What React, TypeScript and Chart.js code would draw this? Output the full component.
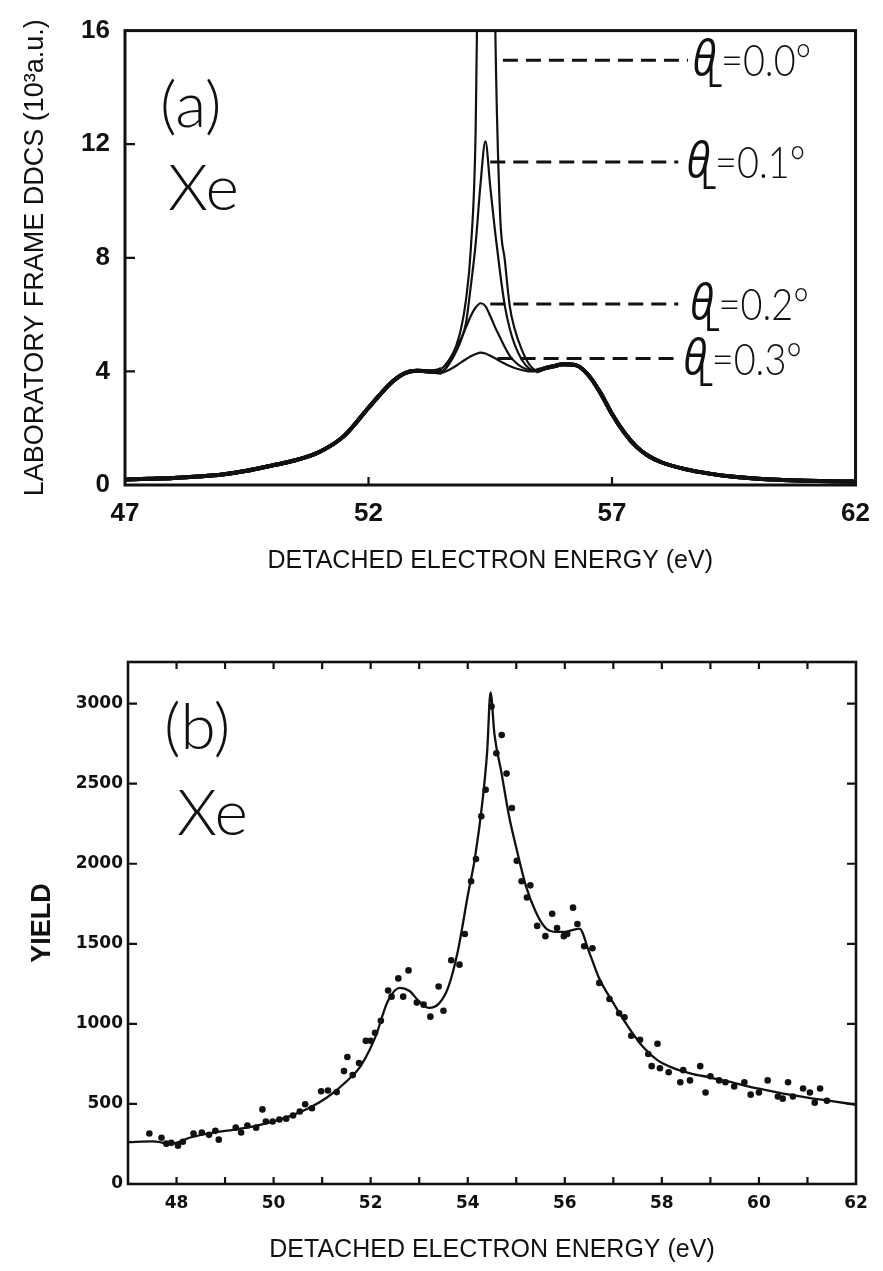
import React, { useEffect, useRef } from "react";
import { Chart, registerables } from "chart.js";
Chart.register(...registerables);

// ---------- Panel (a): laboratory frame DDCS ----------
const X_A = [47, 47.5, 48, 48.5, 49, 49.5, 50, 50.5, 51, 51.5, 52, 52.25, 52.5, 52.75, 53, 53.25, 53.5,
  53.65, 53.8, 53.9, 54.0, 54.1, 54.2, 54.3, 54.4, 54.5, 54.6, 54.7, 54.8, 54.9, 55.0, 55.15, 55.3, 55.45,
  55.6, 55.8, 56.0, 56.25, 56.5, 56.75, 57, 57.25, 57.5, 57.75, 58, 58.5, 59, 59.5, 60, 60.5, 61, 61.5, 62];

const Y_A_LEFT = [0.19, 0.22, 0.25, 0.3, 0.37, 0.5, 0.68, 0.87, 1.17, 1.73, 2.72, 3.21, 3.65, 3.94, 4.02, 4.0];
const Y_A_RIGHT = [4.1, 4.18, 4.25, 4.22, 3.9, 3.28, 2.5, 1.85, 1.35, 1.02, 0.81, 0.56, 0.4, 0.29, 0.22, 0.18, 0.15, 0.13, 0.12];

// centre part, x = 53.5 ... 55.45
const Y_A_00 = [4.0, 4.3, 4.9, 5.5, 6.5, 8.3, 12.5, 26, 42, 34, 16.5, 9.6, 7.9, 6.3, 5.5, 4.75, 4.25, 4.05];
const Y_A_01 = [3.98, 4.25, 4.7, 5.1, 5.7, 7.0, 8.5, 10.6, 12.1, 10.5, 8.9, 7.5, 6.3, 5.5, 4.95, 4.4, 4.1, 4.02];
const Y_A_02 = [4.1, 4.4, 4.85, 5.15, 5.55, 5.95, 6.25, 6.4, 6.3, 5.95, 5.55, 5.2, 4.85, 4.55, 4.35, 4.15, 4.05, 4.02];
const Y_A_03 = [3.95, 4.05, 4.2, 4.32, 4.43, 4.53, 4.61, 4.66, 4.63, 4.55, 4.46, 4.36, 4.27, 4.19, 4.12, 4.05, 4.0, 4.0];

const ANGLES = ["0.0", "0.1", "0.2", "0.3"];
const DASH_LEVEL = [14.96, 11.37, 6.37, 4.45];
const DASH_START = [54.76, 54.5, 54.5, 54.65];
const DASH_END = [58.56, 58.36, 58.36, 58.43];
const LABEL_X = [58.65, 58.53, 58.6, 58.46];

const X_TICKS_A = [47, 52, 57, 62];
const Y_TICKS_A = [0, 4, 8, 12, 16];
const X_MARKS_A = [52, 57];
const Y_MARKS_A = [4, 8, 12];

// ---------- Panel (b): measured yield ----------
const FIT_B_X = [47, 47.5, 47.9, 48.3, 48.7, 49.2, 49.7, 50.2, 50.7, 51.1, 51.5, 51.8, 52.1, 52.35, 52.6, 52.8, 53.0,
  53.2, 53.4, 53.6, 53.8, 54.0, 54.15, 54.3, 54.4, 54.47, 54.55, 54.7, 54.85, 55.0, 55.2, 55.4, 55.6, 55.8, 56.0,
  56.3, 56.5, 56.7, 57.0, 57.3, 57.6, 57.9, 58.2, 58.6, 59.0, 59.5, 60.0, 60.5, 61.0, 61.5, 62.0];
const FIT_B_Y = [262, 266, 252, 292, 318, 340, 368, 410, 470, 540, 640, 740, 920, 1140, 1225, 1205, 1140,
  1100, 1125, 1230, 1460, 1800, 2040, 2380, 2700, 3070, 2810, 2560, 2300, 2100, 1860, 1700, 1600, 1575, 1575,
  1595, 1450, 1290, 1130, 985, 860, 775, 728, 690, 665, 630, 595, 565, 540, 518, 495];

const PTS_B_X = [47.44, 47.69, 47.79, 47.89, 48.03, 48.13, 48.35, 48.52, 48.67, 48.80,
  48.87, 49.22, 49.33, 49.46, 49.64, 49.77, 49.84, 49.98, 50.12, 50.26,
  50.40, 50.54, 50.65, 50.79, 50.98, 51.12, 51.30, 51.45, 51.52, 51.63,
  51.76, 51.90, 52.00, 52.09, 52.21, 52.36, 52.43, 52.57, 52.67, 52.78,
  52.95, 53.09, 53.23, 53.40, 53.50, 53.66, 53.83, 53.94, 54.07, 54.17,
  54.28, 54.37, 54.49, 54.59, 54.70, 54.80, 54.91, 55.01, 55.11, 55.22,
  55.29, 55.43, 55.60, 55.74, 55.84, 55.98, 56.05, 56.17, 56.26, 56.40,
  56.57, 56.71, 56.92, 57.12, 57.23, 57.37, 57.55, 57.72, 57.79, 57.91,
  57.96, 58.14, 58.38, 58.44, 58.58, 58.79, 58.90, 59.00, 59.18, 59.31,
  59.49, 59.70, 59.83, 60.00, 60.18, 60.39, 60.49, 60.60, 60.70, 60.91,
  61.05, 61.15, 61.26, 61.40];
const PTS_B_Y = [315, 289, 252, 257, 239, 264, 315, 322, 307, 332,
  277, 352, 322, 365, 352, 466, 390, 390, 403, 408,
  428, 453, 498, 473, 579, 584, 574, 705, 793, 680,
  755, 894, 894, 944, 1019, 1208, 1170, 1284, 1170, 1334,
  1133, 1120, 1045, 1233, 1082, 1397, 1370, 1561, 1891, 2030,
  2297, 2462, 2982, 2690, 2804, 2563, 2348, 2018, 1891, 1789,
  1865, 1612, 1548, 1688, 1599, 1548, 1561, 1726, 1624, 1485,
  1472, 1256, 1155, 1066, 1041, 926, 901, 812, 736, 876,
  723, 698, 635, 711, 647, 736, 571, 673, 647, 635,
  609, 635, 558, 571, 647, 546, 533, 635, 546, 596,
  571, 508, 596, 520];

const X_TICKS_B = [48, 50, 52, 54, 56, 58, 60, 62];
const Y_TICKS_B = [0, 500, 1000, 1500, 2000, 2500, 3000];
const X_MARKS_B = [48, 49, 50, 51, 52, 53, 54, 55, 56, 57, 58, 59, 60, 61];
const Y_MARKS_B = [500, 1000, 1500, 2000, 2500, 3000];

const INK = "#111";
const SANS = "'Liberation Sans', Arial, sans-serif";
const THIN = "Lato, 'Open Sans', sans-serif";

function curve(center: number[]) {
  const ys = [...Y_A_LEFT, ...center, ...Y_A_RIGHT];
  return X_A.map((x, i) => ({ x, y: ys[i] }));
}

function txt(ctx: CanvasRenderingContext2D, s: string, font: string, x: number, y: number, sx = 0.86) {
  ctx.save();
  ctx.font = font;
  ctx.translate(x, y);
  ctx.scale(sx, 1);
  ctx.fillText(s, 0, 0);
  const w = ctx.measureText(s).width * sx;
  ctx.restore();
  return w;
}

function framePlugin(id: string, lw: number, xm: number[], ym: number[], both: boolean, len: number, drawText: (c: any) => void) {
  return {
    id,
    afterDatasetsDraw(chart: any) {
      const { ctx, chartArea: ca, scales } = chart;
      const x = scales.x, y = scales.y;
      ctx.save();
      ctx.strokeStyle = INK;
      ctx.lineWidth = lw;
      ctx.strokeRect(ca.left, ca.top, ca.right - ca.left, ca.bottom - ca.top);
      ctx.lineWidth = 2.2;
      ctx.beginPath();
      xm.forEach((v) => {
        const px = x.getPixelForValue(v);
        ctx.moveTo(px, ca.bottom); ctx.lineTo(px, ca.bottom - len);
        if (both) { ctx.moveTo(px, ca.top); ctx.lineTo(px, ca.top + len); }
      });
      ym.forEach((v) => {
        const py = y.getPixelForValue(v);
        ctx.moveTo(ca.left, py); ctx.lineTo(ca.left + len + 2, py);
        if (both) { ctx.moveTo(ca.right, py); ctx.lineTo(ca.right - len - 2, py); }
      });
      ctx.stroke();
      ctx.fillStyle = INK;
      ctx.textBaseline = "alphabetic";
      ctx.textAlign = "left";
      drawText(chart);
      ctx.restore();
    },
  };
}

export default function App() {
  const refA = useRef<HTMLCanvasElement>(null);
  const refB = useRef<HTMLCanvasElement>(null);

  useEffect(() => {
    Chart.defaults.font.family = SANS;
    Chart.defaults.color = INK;

    const seg = {
      borderWidth: (c: any) => (c.p1.parsed.x <= 53.5 || c.p0.parsed.x >= 55.45 ? 4 : 2.2),
    };
    const curveDs = (data: any[]) => ({
      data, borderColor: INK, borderWidth: 2.2, pointRadius: 0, cubicInterpolationMode: "monotone",
      segment: seg, clip: 0,
    });
    const dashDs = ANGLES.map((_, i) => ({
      data: [{ x: DASH_START[i], y: DASH_LEVEL[i] }, { x: DASH_END[i], y: DASH_LEVEL[i] }],
      borderColor: INK, borderWidth: 3, borderDash: [15, 8], pointRadius: 0, clip: 0,
    }));

    const pluginA = framePlugin("frameA", 3, X_MARKS_A, Y_MARKS_A, false, 8, (chart) => {
      const { ctx, chartArea: ca, scales: { x, y } } = chart;
      ctx.font = `300 64px ${THIN}`;
      ctx.fillText("(a)", ca.left + 35, ca.top + 96);
      ctx.fillText("Xe", ca.left + 43, ca.top + 179);
      ANGLES.forEach((ang, i) => {
        const x0 = x.getPixelForValue(LABEL_X[i]);
        const yl = y.getPixelForValue(DASH_LEVEL[i]);
        const wT = txt(ctx, "θ", `italic 400 50px 'Open Sans', 'DejaVu Sans', sans-serif`, x0, yl + 16);
        const lx = x0 + wT * 0.62;
        const wL = txt(ctx, "L", `34px ${THIN}`, lx, yl + 27);
        txt(ctx, "=" + ang + "°", `300 44px ${THIN}`, lx + wL - 1, yl + 16);
      });
    });

    const chartA = new Chart(refA.current!, {
      type: "line",
      data: {
        datasets: [curveDs(curve(Y_A_00)), curveDs(curve(Y_A_01)), curveDs(curve(Y_A_02)), curveDs(curve(Y_A_03)), ...dashDs] as any,
      },
      options: {
        responsive: false,
        animation: false,
        events: [],
        layout: { padding: { top: 23, right: 20, left: 0, bottom: 0 } },
        plugins: { legend: { display: false }, tooltip: { enabled: false } },
        scales: {
          x: {
            type: "linear", min: 47, max: 62,
            afterBuildTicks: (s: any) => { s.ticks = X_TICKS_A.map((v) => ({ value: v })); },
            afterFit: (s: any) => { s.height = 115; },
            grid: { display: false, drawTicks: false },
            border: { display: false },
            ticks: { padding: 13, autoSkip: false, maxRotation: 0, minRotation: 0, font: { size: 26, weight: "bold" }, color: INK, callback: (v: any) => String(v) },
            title: { display: true, text: "DETACHED ELECTRON ENERGY (eV)", font: { size: 25 }, color: INK, padding: { top: 0, bottom: 24 } },
          },
          y: {
            type: "linear", min: 0, max: 16,
            afterBuildTicks: (s: any) => { s.ticks = Y_TICKS_A.map((v) => ({ value: v })); },
            afterFit: (s: any) => { s.width = 125; },
            grid: { display: false, drawTicks: false },
            border: { display: false },
            ticks: { padding: 15, font: { size: 26, weight: "bold" }, color: INK, callback: (v: any) => String(v) },
            title: { display: true, text: "LABORATORY FRAME DDCS (10³a.u.)", font: { size: 27 }, color: INK, padding: { top: 19, bottom: 0 } },
          },
        },
      } as any,
      plugins: [pluginA as any],
    });

    const pluginB = framePlugin("frameB", 2.6, X_MARKS_B, Y_MARKS_B, true, 7, (chart) => {
      const { ctx, chartArea: ca } = chart;
      ctx.font = `300 64px ${THIN}`;
      ctx.fillText("(b)", ca.left + 36, ca.top + 87);
      ctx.fillText("Xe", ca.left + 49, ca.top + 173);
    });

    const chartB = new Chart(refB.current!, {
      type: "scatter",
      data: {
        datasets: [
          {
            data: FIT_B_X.map((x, i) => ({ x, y: FIT_B_Y[i] })),
            showLine: true, borderColor: INK, borderWidth: 2.3, pointRadius: 0,
            cubicInterpolationMode: "monotone", clip: 0,
          },
          {
            data: PTS_B_X.map((x, i) => ({ x, y: PTS_B_Y[i] })),
            showLine: false, pointRadius: 3.3, pointBackgroundColor: INK, pointBorderColor: INK, pointBorderWidth: 0,
          },
        ] as any,
      },
      options: {
        responsive: false,
        animation: false,
        events: [],
        layout: { padding: { top: 62, right: 27, left: 0, bottom: 0 } },
        plugins: { legend: { display: false }, tooltip: { enabled: false } },
        scales: {
          x: {
            type: "linear", min: 47, max: 62,
            afterBuildTicks: (s: any) => { s.ticks = X_TICKS_B.map((v) => ({ value: v })); },
            afterFit: (s: any) => { s.height = 87; },
            grid: { display: false, drawTicks: false },
            border: { display: false },
            ticks: { padding: 9, autoSkip: false, maxRotation: 0, minRotation: 0, font: { family: "'DejaVu Sans', sans-serif", size: 17, weight: "bold" }, color: INK, callback: (v: any) => String(v) },
            title: { display: true, text: "DETACHED ELECTRON ENERGY (eV)", font: { size: 25 }, color: INK, padding: { top: 0, bottom: 6 } },
          },
          y: {
            type: "linear", min: 0, max: 3260,
            afterBuildTicks: (s: any) => { s.ticks = Y_TICKS_B.map((v) => ({ value: v })); },
            afterFit: (s: any) => { s.width = 128; },
            grid: { display: false, drawTicks: false },
            border: { display: false },
            ticks: { padding: 5, font: { family: "'DejaVu Sans', sans-serif", size: 17, weight: "bold" }, color: INK, callback: (v: any) => String(v) },
            title: { display: true, text: "YIELD", font: { family: "'Liberation Sans Narrow', 'Liberation Sans', sans-serif", size: 27, weight: "bold" }, color: INK, padding: { top: 26, bottom: 0 } },
          },
        },
      } as any,
      plugins: [pluginB as any],
    });

    return () => { chartA.destroy(); chartB.destroy(); };
  }, []);

  return (
    <div style={{ position: "absolute", left: 0, top: 0, width: 883, height: 1271, background: "#fff" }}>
      <canvas ref={refA} width={883} height={600} style={{ position: "absolute", left: 0, top: 0, width: 883, height: 600 }} />
      <canvas ref={refB} width={883} height={671} style={{ position: "absolute", left: 0, top: 600, width: 883, height: 671 }} />
    </div>
  );
}
